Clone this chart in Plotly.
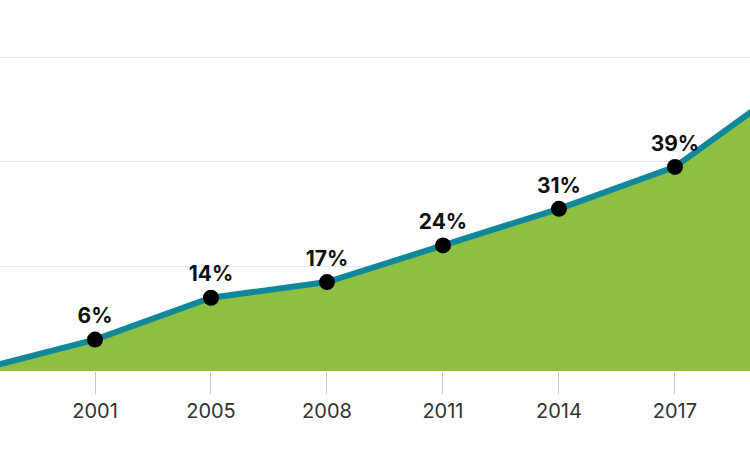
import plotly.graph_objects as go

years = ["2000", "2001", "2005", "2008", "2011", "2014", "2017", "2020"]
values = [0.3, 6, 14, 17, 24, 31, 39, 55]
labels = ["0.3%", "6%", "14%", "17%", "24%", "31%", "39%", "55%"]
grid_vals = [20, 40, 60]

fig = go.Figure()
fig.add_trace(go.Scatter(
    x=years, y=values,
    mode="lines+markers+text",
    fill="tozeroy",
    fillcolor="#8DC041",
    line=dict(color="#11879A", width=6),
    marker=dict(color="#000000", size=16),
    text=labels,
    textposition="top center",
    textfont=dict(family="Inter, Lato, sans-serif", size=21, color="#111111", weight="bold"),
    cliponaxis=False,
    hoverinfo="skip",
))

fig.update_layout(
    width=750, height=451,
    margin=dict(l=0, r=0, t=0, b=80),
    paper_bgcolor="white",
    plot_bgcolor="white",
    showlegend=False,
    xaxis=dict(
        type="category",
        range=[0.181, 6.647],
        showgrid=False,
        zeroline=False,
        showline=False,
        ticks="outside",
        ticklen=22,
        tickwidth=1,
        tickcolor="#c8c8c8",
        tickfont=dict(family="Inter, Lato, sans-serif", size=20, color="#333333"),
    ),
    yaxis=dict(
        range=[0, 70.9],
        tickvals=grid_vals,
        showticklabels=False,
        showgrid=True,
        gridcolor="#e6e6e6",
        gridwidth=1,
        zeroline=False,
        showline=False,
    ),
)

fig.write_html(
    "out.html",
    config={"displayModeBar": False},
    post_script="document.body.style.margin='0';document.body.style.overflow='hidden';",
)
